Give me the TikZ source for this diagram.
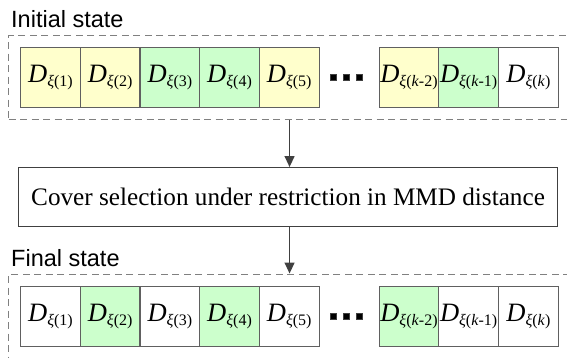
\documentclass[tikz,border=0pt]{standalone}
\usepackage{fontspec}
\setmainfont{Liberation Serif}
\newfontfamily\labelfont{Liberation Sans}
\usetikzlibrary{arrows.meta}
\definecolor{cyel}{HTML}{FFFFCC}
\definecolor{cgrn}{HTML}{CCFFCC}
\definecolor{cellline}{HTML}{606060}
\definecolor{dashcol}{HTML}{808080}
\definecolor{arrcol}{HTML}{404040}
\newcommand\Dcell[1]{\textit{D}\raisebox{-4.5pt}{\fontsize{16}{16}\selectfont\textit{ξ}(#1)}}
\tikzset{
  cell/.style={draw=cellline, line width=1.2pt, minimum width=59.7pt, minimum height=60pt,
    inner sep=0pt, anchor=north west, font=\fontsize{26.5}{26.5}\selectfont},
  ycell/.style={cell, fill=cyel},
  gcell/.style={cell, fill=cgrn},
  wcell/.style={cell, fill=white},
  dashbox/.style={draw=dashcol, line width=1.1pt, dash pattern=on 7pt off 4.5pt,
    inner sep=0pt, anchor=north west},
  statelabel/.style={font=\labelfont\fontsize{23.5}{23.5}\selectfont, anchor=base west, inner sep=0pt},
  flow/.style={draw=arrcol, line width=1.3pt, -{Triangle[length=11pt, width=10pt]}},
  dotsq/.style={fill=black, draw=arrcol, minimum size=5.5pt, inner sep=0pt}
}
\begin{document}
\begin{tikzpicture}[x=1pt, y=-1pt]
\useasboundingbox (0,0) rectangle (567,357);
\clip (0,0) rectangle (567,357);
% Initial state
\node[statelabel] (ilab) at (11,27) {Initial state};
\node[dashbox, minimum width=570pt, minimum height=84pt] (ibox) at (8,35) {};
\node[ycell] (i1) at (20,47) {\Dcell{1}};
\node[ycell] (i2) at (79.7,47) {\Dcell{2}};
\node[gcell] (i3) at (139.4,47) {\Dcell{3}};
\node[gcell] (i4) at (199.1,47) {\Dcell{4}};
\node[ycell] (i5) at (258.8,47) {\Dcell{5}};
\node[dotsq] (id1) at (333,77) {};
\node[dotsq] (id2) at (346,77) {};
\node[dotsq] (id3) at (359,77) {};
\node[ycell] (ik2) at (378.5,47) {\Dcell{\textit{k}-2}};
\node[gcell] (ik1) at (438.2,47) {\Dcell{\textit{k}-1}};
\node[wcell] (ik) at (497.9,47) {\Dcell{\textit{k}}};
% Middle
\node[draw=arrcol, line width=1.1pt, minimum width=539pt, minimum height=59pt, inner sep=0pt,
  anchor=north west, font=\fontsize{25.2}{25.2}\selectfont] (mid) at (18,167)
  {Cover selection under restriction in MMD distance};
% Final state
\node[statelabel] (flab) at (11,266) {Final state};
\node[dashbox, minimum width=570pt, minimum height=100pt] (fbox) at (8,273.5) {};
\node[wcell] (f1) at (20,286) {\Dcell{1}};
\node[gcell] (f2) at (79.7,286) {\Dcell{2}};
\node[wcell] (f3) at (139.4,286) {\Dcell{3}};
\node[gcell] (f4) at (199.1,286) {\Dcell{4}};
\node[wcell] (f5) at (258.8,286) {\Dcell{5}};
\node[dotsq] (fd1) at (333,316) {};
\node[dotsq] (fd2) at (346,316) {};
\node[dotsq] (fd3) at (359,316) {};
\node[gcell] (fk2) at (378.5,286) {\Dcell{\textit{k}-2}};
\node[wcell] (fk1) at (438.2,286) {\Dcell{\textit{k}-1}};
\node[wcell] (fk) at (497.9,286) {\Dcell{\textit{k}}};
% Connectors
\coordinate (a1s) at ([xshift=1.5pt]mid.north |- ibox.south);
\coordinate (a1e) at ([xshift=1.5pt]mid.north);
\draw[flow] (a1s) -- (a1e);
\coordinate (a2s) at ([xshift=1.5pt]mid.south);
\coordinate (a2e) at ([xshift=1.5pt]mid.south |- fbox.north);
\draw[flow] (a2s) -- (a2e);
\end{tikzpicture}
\end{document}
